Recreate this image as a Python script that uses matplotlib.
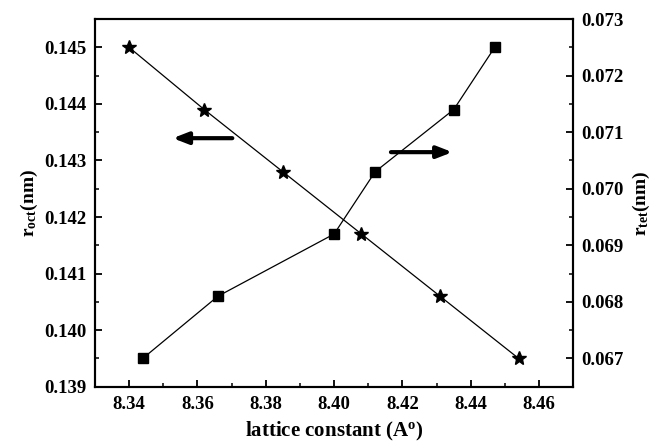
import matplotlib
matplotlib.use("Agg")
import matplotlib.pyplot as plt
from matplotlib.ticker import MultipleLocator, FormatStrFormatter

# data
lattice_oct = [8.340, 8.362, 8.385, 8.408, 8.431, 8.454]
r_oct = [0.1450, 0.1439, 0.1428, 0.1417, 0.1406, 0.1395]

lattice_tet = [8.344, 8.366, 8.400, 8.412, 8.435, 8.447]
r_tet = [0.0670, 0.0681, 0.0692, 0.0703, 0.0714, 0.0725]

plt.rcParams["font.family"] = "Liberation Serif"
plt.rcParams["font.weight"] = "bold"
plt.rcParams["mathtext.fontset"] = "custom"
plt.rcParams["mathtext.rm"] = "Liberation Serif:bold"
plt.rcParams["mathtext.it"] = "Liberation Serif:italic:bold"
plt.rcParams["mathtext.bf"] = "Liberation Serif:bold"

fig = plt.figure(figsize=(6.59, 4.43), dpi=100)
ax = fig.add_axes([0.144, 0.127, 0.726, 0.830])
ax2 = ax.twinx()

ax.plot(lattice_oct, r_oct, color="black", lw=0.9, marker="*", ms=10,
        markeredgecolor="black", markerfacecolor="black")
ax2.plot(lattice_tet, r_tet, color="black", lw=0.9, marker="s", ms=7,
         markeredgecolor="black", markerfacecolor="black")

ax.set_xlim(8.33, 8.47)
ax.set_ylim(0.139, 0.1455)
ax2.set_ylim(0.0665, 0.073)

ax.xaxis.set_major_locator(MultipleLocator(0.02))
ax.xaxis.set_minor_locator(MultipleLocator(0.01))
ax.xaxis.set_major_formatter(FormatStrFormatter("%.2f"))
ax.yaxis.set_major_locator(MultipleLocator(0.001))
ax.yaxis.set_minor_locator(MultipleLocator(0.0005))
ax.yaxis.set_major_formatter(FormatStrFormatter("%.3f"))
ax2.yaxis.set_major_locator(MultipleLocator(0.001))
ax2.yaxis.set_minor_locator(MultipleLocator(0.0005))
ax2.yaxis.set_major_formatter(FormatStrFormatter("%.3f"))

for a in (ax, ax2):
    for s in a.spines.values():
        s.set_linewidth(1.5)
    a.tick_params(which="major", direction="in", length=5, width=1.3, labelsize=13.5)
    a.tick_params(which="minor", direction="in", length=3, width=1.1)
ax.tick_params(axis="x", which="both", top=False, pad=7)
ax.tick_params(axis="y", which="both", right=False, pad=6)
ax2.tick_params(axis="y", which="both", pad=6)

ax.set_xlabel(r"lattice constant (A$^{\mathrm{o}}$)", fontsize=15, fontweight="bold", labelpad=5)
ax.set_ylabel(r"r$_{\mathrm{oct}}$(nm)", fontsize=14, fontweight="bold", labelpad=3)
ax2.set_ylabel(r"r$_{\mathrm{tet}}$(nm)", fontsize=14, fontweight="bold", labelpad=5)

# direction arrows
arrow = dict(arrowstyle="-|>,head_length=0.9,head_width=0.35", lw=3, color="black")
ax.annotate("", xy=(0.157, 0.676), xytext=(0.293, 0.676),
            xycoords="axes fraction", textcoords="axes fraction", arrowprops=arrow)
ax.annotate("", xy=(0.753, 0.638), xytext=(0.613, 0.638),
            xycoords="axes fraction", textcoords="axes fraction", arrowprops=arrow)

fig.savefig("out.png", dpi=100)
